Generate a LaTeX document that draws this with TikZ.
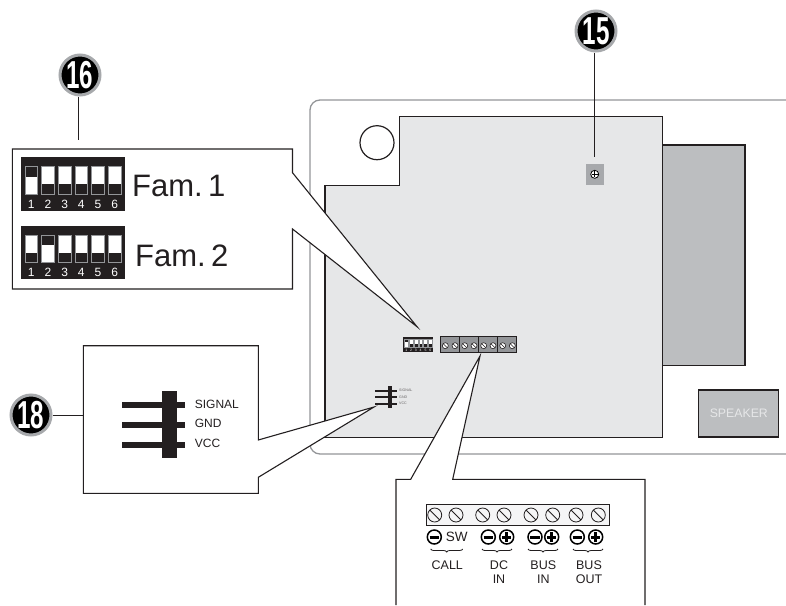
\documentclass[tikz,border=0pt]{standalone}
\usepackage{fontspec}
\setmainfont{Liberation Sans}
\usetikzlibrary{decorations.pathreplacing}
\definecolor{inkc}{HTML}{231F20}
\definecolor{boardc}{HTML}{E6E7E8}
\definecolor{blockc}{HTML}{BCBEC0}
\definecolor{termc}{HTML}{939598}
\definecolor{ringc}{HTML}{A7A9AC}
\newcommand{\fsz}[1]{\fontsize{#1}{#1}\selectfont}
\tikzset{
  outline/.style={draw=inkc,line width=1.2pt},
  callout/.style={draw=inkc,line width=1.1pt,fill=white,line join=miter},
  badge/.style={circle,fill=black,draw=ringc,line width=3pt,minimum size=40pt,inner sep=0pt,text=white,font=\bfseries\fsz{39}},
  leader/.style={draw=inkc,line width=1pt},
  lab/.style={inner sep=0pt,anchor=base west,text=inkc},
  small/.style={inner sep=0pt,anchor=base,text=inkc,font=\fsz{12.5}},
  sign/.style={circle,draw=black,line width=1.5pt,fill=white,minimum size=14pt,inner sep=0pt},
  bar/.style={black,line width=3pt},
  wrap/.style={decorate,decoration={brace,mirror,amplitude=3pt},draw=inkc,line width=.8pt}
}
\newcommand{\badgetext}[1]{\scalebox{.62}[1]{#1}}
% origin x, origin y, scale, which switch is raised
\newcommand{\dippanel}[4]{%
  \begin{scope}[shift={(#1,#2)},scale=#3,transform shape]
    \fill[inkc] (0,0) rectangle (104.6,53.4);
    \foreach \n in {1,...,6}{
      \pgfmathsetmacro{\xl}{4.3+(\n-1)*16.67}
      \pgfmathsetmacro{\xc}{\xl+6.3}
      \ifnum\n=#4\relax
        \fill[white] (\xl,9.4) rectangle ++(12.7,27.3);
        \fill[inkc] (\xl,9.4) rectangle ++(12.7,10);
      \else
        \fill[white] (\xl,9.4) rectangle ++(12.7,17.3);
      \fi
      \draw[termc,line width=.5pt] (\xl,9.4) rectangle ++(12.7,27.3);
      \node[text=white,inner sep=0pt,font=\fsz{12}] at (\xc,46.7) {\n};
    }
  \end{scope}}
\begin{document}
\begin{tikzpicture}[x=1pt,y=-1pt]
\useasboundingbox (0,0) rectangle (786,605);
% enclosure
\draw[termc,line width=1.3pt] (786,100) -- (320,100) arc[start angle=90,end angle=180,radius=10pt]
  -- (310,444) arc[start angle=180,end angle=270,radius=10pt] -- (786,454);
% side block and board
\fill[blockc] (662,145) rectangle (745,365.7);
\draw[outline] (662,145) rectangle (745,365.7);
\draw[outline,fill=boardc] (399.5,116.5) -- (662.7,116.5) -- (662.7,437.7) -- (325,437.7) -- (325,185.7) -- (399.5,185.7) -- cycle;
\draw[outline,fill=white] (377,142.7) circle[radius=17pt];
% speaker
\node[draw=inkc,line width=1.2pt,fill=blockc,minimum width=80pt,minimum height=47pt,inner sep=0pt,text=boardc,font=\fsz{12.3}] (speaker) at (738.8,413.5) {SPEAKER};
% trimmer
\fill[ringc] (585.7,164.3) rectangle (603.7,184.7);
\draw[draw=black,line width=.8pt,fill=white] (594.7,174.3) circle[radius=4pt];
\draw[black,line width=.5pt] (591.7,174.3) -- (597.7,174.3) (594.7,171.3) -- (594.7,177.3);
% terminal block on board
\fill[termc] (440.7,336.7) rectangle (516.7,352.3);
\draw[inkc,line width=.8pt] (440.7,336.7) rectangle (516.7,352.3);
\foreach \x in {459.7,478.7,497.7} \draw[inkc,line width=.8pt] (\x,336.7) -- (\x,352.3);
\foreach \x in {445.3,455,464.7,474,483.7,493,502.7,512.3}{
  \draw[fill=white,draw=inkc,line width=.6pt] (\x,345.7) circle[radius=3pt];
  \draw[inkc,line width=.5pt] (\x-2,343.7) -- (\x+2,347.7);
}
% small dip switch
\dippanel{403.3}{336.7}{.287}{1}
% small header
\fill[inkc] (387.7,386) rectangle (392.3,408.3);
\foreach \y/\t in {390.7/SIGNAL,397/GND,403.7/VCC}{
  \fill[inkc] (375,\y-1) rectangle (396.7,\y+1);
  \node[inner sep=0pt,anchor=west,text=inkc!70,font=\fsz{3.6}] at (399,\y) {\t};
}
% callout 16
\coordinate (tip16) at (417,326.7);
\draw[callout] (12.3,149) -- (292.5,149) -- (292.5,172.7) -- (tip16) -- (292.5,229) -- (292.5,289) -- (12.3,289) -- cycle;
\dippanel{20.7}{157.3}{1}{1}
\dippanel{20.7}{226}{1}{2}
\node[lab,font=\fsz{31}] (fam1) at (132,196.7) {Fam.\hspace{.17em}1};
\node[lab,font=\fsz{31}] (fam2) at (135,266.7) {Fam.\hspace{.17em}2};
% callout 18
\coordinate (tip18) at (374,407);
\draw[callout] (83.3,345.7) -- (258.3,345.7) -- (258.3,440) -- (tip18) -- (258.3,477.3) -- (258.3,493.3) -- (83.3,493.3) -- cycle;
\fill[inkc] (162,390.7) rectangle (176.7,458.3);
\foreach \y in {405,425.3,445} \fill[inkc] (122,\y-3) rectangle (185.3,\y+3);
\node[lab,anchor=west,font=\fsz{12}] (sig) at (194.7,404) {SIGNAL};
\node[lab,anchor=west,font=\fsz{12}] (gnd) at (194.7,423) {GND};
\node[lab,anchor=west,font=\fsz{12}] (vcc) at (194.7,443) {VCC};
% callout terminals
\coordinate (tipT) at (480,356);
\draw[callout] (396,605) -- (396,479.3) -- (410.7,479.3) -- (tipT) -- (452.7,479.3) -- (645,479.3) -- (645,605);
\draw[inkc,line width=.9pt,fill=boardc!40] (426,504.3) rectangle (609.3,525);
\foreach \x in {434.7,456,482.7,504,531,552.7,576,598.3}{
  \draw[inkc,line width=.8pt] (\x,515) circle[radius=7pt];
  \draw[inkc,line width=.8pt] (\x-4.9,510.1) -- (\x+4.9,519.9);
}
\foreach \x in {434.3,488.3,535,577.3}{
  \node[sign] (m\x) at (\x,537) {};
  \draw[bar] (\x-4.7,537) -- (\x+4.7,537);
}
\foreach \x in {506.7,551.7,595.7}{
  \node[sign] (p\x) at (\x,537) {};
  \draw[bar] (\x-4.7,537) -- (\x+4.7,537) (\x,532.3) -- (\x,541.7);
}
\node[inkc,inner sep=0pt,anchor=base,font=\fsz{13.5}] (sw) at (456.7,541.5) {SW};
\draw[wrap] (430.7,549) -- (462.7,549);
\draw[wrap] (482,549) -- (512,549);
\draw[wrap] (528,549) -- (558,549);
\draw[wrap] (573,549) -- (603,549);
\node[small] (call) at (447.3,569) {CALL};
\node[small] (dc) at (499,569) {DC};
\node[small] (in1) at (499,583) {IN};
\node[small] (bus1) at (543.3,569) {BUS};
\node[small] (in2) at (543.3,583) {IN};
\node[small] (bus2) at (589,569) {BUS};
\node[small] (out) at (589,583) {OUT};
% badges and leaders
\coordinate (c16) at (78.7,140);
\coordinate (c15) at (594.7,157);
\coordinate (c18) at (83.3,415.7);
\node[badge] (b16) at (80,75) {\badgetext{16}};
\node[badge] (b15) at (596,31) {\badgetext{15}};
\node[badge] (b18) at (31,415) {\badgetext{18}};
\draw[leader] (c16 |- b16.south) -- (c16);
\draw[leader] (c15 |- b15.south) -- (c15);
\draw[leader] (b18.east |- c18) -- (c18);
\end{tikzpicture}
\end{document}
